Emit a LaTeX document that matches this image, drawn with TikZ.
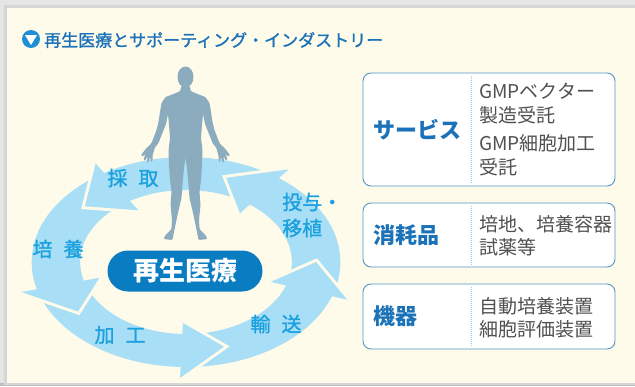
\documentclass[tikz,border=0pt]{standalone}
\usepackage{fontspec}
\setmainfont{Noto Sans CJK JP}
\newfontfamily\medfont{Noto Sans CJK JP}[FakeBold=1.2]
\definecolor{panelbg}{HTML}{FFFBEA}
\definecolor{ringblue}{HTML}{A9DEF7}
\definecolor{stepcyan}{HTML}{1BA1DD}
\definecolor{pillblue}{HTML}{0A7CC2}
\definecolor{titleblue}{HTML}{1B72B8}
\definecolor{iconblue}{HTML}{1E8FD6}
\definecolor{boxline}{HTML}{4F97CB}
\definecolor{dotblue}{HTML}{9CCDEB}
\definecolor{textgray}{HTML}{505050}
\definecolor{bodygray}{HTML}{8AACBE}

\begin{document}
\begin{tikzpicture}[x=1pt, y=-1pt,
  notch/.style={draw=panelbg, line width=6pt, line join=miter},
  steplabel/.style={text=stepcyan, font=\medfont\fontsize{20}{26}\selectfont, inner sep=0pt},
  pill/.style={fill=pillblue, text=white, rounded corners=20.5pt, minimum width=155pt,
    minimum height=41pt, inner sep=0pt, font=\bfseries\fontsize{26}{30}\selectfont},
  infobox/.style={draw=boxline, line width=0.9pt, fill=white, rounded corners=8pt,
    minimum width=252pt, inner sep=0pt},
  boxtitle/.style={text=titleblue, font=\bfseries\fontsize{22}{26}\selectfont, inner sep=0pt, anchor=west},
  boxtext/.style={text=textgray, font=\fontsize{19}{23.5}\selectfont, align=left, inner sep=0pt, anchor=west},
  divider/.style={draw=dotblue, densely dotted, line width=1pt}]
\useasboundingbox (0,0) rectangle (635,386);

% backdrop and panel
\fill[black!10] (0,0) rectangle (635,386);
\fill[black!25] (0,383) rectangle (635,386);
\fill[black!16] (4,5) rectangle (635,385);
\fill[panelbg] (7,8) rectangle (635,383);

% heading
\node[circle, fill=iconblue, minimum size=18pt, inner sep=0pt] (icon) at (31,39) {};
\fill[white] ([xshift=-6pt,yshift=4pt]icon.center) -- ([xshift=6pt,yshift=4pt]icon.center)
  -- ([yshift=-6pt]icon.center) -- cycle;
\node[anchor=west, inner sep=0pt, text=titleblue, font=\medfont\fontsize{17}{20}\selectfont]
  (title) at (44,40) {再生医療とサポーティング・インダストリー};

% cycle of five arrows
\begin{scope}[shift={(186,262)}, xscale=1.47, yscale=-1]
  \fill[ringblue, even odd rule] (0,0) circle[radius=105] (0,0) circle[radius=72];
  \foreach \b in {53,122,195,268,341}{
    \draw[notch] (\b:116) -- (\b+19:88.5) -- (\b:61);
    \fill[ringblue] (\b:116) -- (\b+19:88.5) -- (\b:61) -- cycle;
  }
\end{scope}

% patient
\fill[bodygray] (185.5,77) ellipse[x radius=8, y radius=10.5];
\foreach \side in {1,-1}{
  \fill[bodygray, shift={(185.5,0)}, xscale=\side, rounded corners=1.2pt]
    (-0.6,86) -- (4.5,86) -- (5,91) -- (12,94) -- (20,97) -- (24,103) -- (25.5,112)
    -- (27,122) -- (29,130) -- (32,138) -- (34.5,144) -- (39,148) -- (44.5,155)
    -- (43.5,157) -- (40,153.5) -- (42,160) -- (40.5,161) -- (38,156) -- (38.5,162.5)
    -- (36.8,162.5) -- (35.5,157) -- (34.5,162) -- (33,161.5) -- (33,155) -- (31.5,151)
    -- (31,148) -- (27,143) -- (23.5,134) -- (19.5,124) -- (17.5,114) -- (16.5,125)
    -- (15.5,138) -- (17,150) -- (16.5,165) -- (15.5,180) -- (14,192) -- (15,205)
    -- (13.5,220) -- (14,229) -- (20,235) -- (22,239) -- (13,240) -- (11.5,232)
    -- (8,215) -- (4,198) -- (3,185) -- (1.5,168) -- (0,158) -- (-0.6,158) -- cycle;
}

% steps round the cycle
\node[steplabel] (harvest) at (133,178) {採\hspace{0.55em}取};
\node[steplabel] (culture) at (58,249) {培\hspace{0.55em}養};
\node[steplabel] (process) at (120,335) {加\hspace{0.55em}工};
\node[steplabel] (transport) at (276,324) {輸\hspace{0.55em}送};
\node[steplabel, align=left, anchor=west] (transplant) at (282,215) {投与・\\移植};

\node[pill] (therapy) at (185,271) {再生医療};

% supporting industry
\node[infobox, minimum height=113pt] (service) at (489,129.5) {};
\node[infobox, minimum height=64pt] (consumable) at (489,235) {};
\node[infobox, minimum height=65pt] (equipment) at (489,316.5) {};
\foreach \infoname in {service,consumable,equipment}
  \draw[divider] ([xshift=-18pt,yshift=-3pt]\infoname.north) -- ([xshift=-18pt,yshift=3pt]\infoname.south);

\node[boxtitle] (servicename) at ([xshift=11pt]service.west) {サービス};
\node[boxtitle] (consumablename) at ([xshift=11pt]consumable.west) {消耗品};
\node[boxtitle] (equipmentname) at ([xshift=11pt]equipment.west) {機器};

\node[boxtext] (vector) at (479,103.5) {GMPベクター\\製造受託};
\node[boxtext] (cellwork) at (479,155) {GMP細胞加工\\受託};
\node[boxtext] (media) at (479,236) {培地、培養容器\\試薬等};
\node[boxtext] (devices) at (479,318) {自動培養装置\\細胞評価装置};
\end{tikzpicture}
\end{document}
